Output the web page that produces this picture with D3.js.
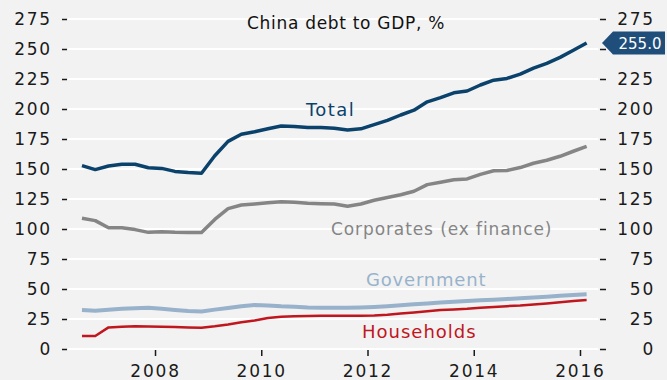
<!DOCTYPE html>
<html>
<head>
<meta charset="utf-8">
<script src="https://cdn.jsdelivr.net/npm/d3@7"></script>
<style>
	body { margin: 0; background: #f2f2f2; }
	svg { display: block; font-family: 'DejaVu Sans', sans-serif; }
</style>
</head>
<body>
<div id="container"></div>
<script>
// quarterly points, 2006Q3 .. 2016Q1
var quarters = ['2006Q3','2006Q4',
	'2007Q1','2007Q2','2007Q3','2007Q4',
	'2008Q1','2008Q2','2008Q3','2008Q4',
	'2009Q1','2009Q2','2009Q3','2009Q4',
	'2010Q1','2010Q2','2010Q3','2010Q4',
	'2011Q1','2011Q2','2011Q3','2011Q4',
	'2012Q1','2012Q2','2012Q3','2012Q4',
	'2013Q1','2013Q2','2013Q3','2013Q4',
	'2014Q1','2014Q2','2014Q3','2014Q4',
	'2015Q1','2015Q2','2015Q3','2015Q4',
	'2016Q1'];

var total = [152.8, 149.5, 152.5, 154, 154, 151, 150.5, 148, 147, 146.5,
	161, 173, 179, 181, 183.5, 185.8, 185.5, 184.5, 184.5, 184,
	182.5, 183.5, 187, 190.5, 195, 199, 206, 209.5, 213.5, 215,
	220, 224, 225.5, 229, 234, 238, 243, 249, 255];

var corporates = [109, 107, 101, 101, 99.5, 97.2, 97.8, 97.2, 97, 97,
	108, 117, 120, 120.8, 121.8, 122.8, 122.2, 121.4, 121, 120.8,
	119, 120.8, 124, 126.3, 128.5, 131.5, 137, 139, 141, 141.7,
	145.5, 148.5, 148.8, 151.2, 154.8, 157.3, 160.6, 164.8, 168.8];

var government = [32.5, 31.8, 32.8, 33.5, 34, 34.4, 33.5, 32.5, 31.7, 31.2,
	32.8, 34.2, 35.6, 36.6, 36.3, 35.6, 35.2, 34.6, 34.4, 34.4,
	34.4, 34.6, 35, 35.6, 36.4, 37.2, 38, 38.7, 39.3, 40,
	40.6, 41.1, 41.7, 42.3, 43, 43.6, 44.3, 45, 45.6];

var households = [10.8, 10.8, 18, 18.5, 19, 18.8, 18.6, 18.4, 18, 17.8,
	19, 20.5, 22.3, 23.8, 25.8, 26.8, 27.3, 27.5, 27.8, 27.8,
	27.8, 27.8, 28, 28.5, 29.5, 30.5, 31.5, 32.5, 33, 33.5,
	34.3, 35, 35.7, 36.2, 37, 38, 39, 40, 40.8];

var yTicks = [0, 25, 50, 75, 100, 125, 150, 175, 200, 225, 250, 275];
var xTicks = [2008, 2010, 2012, 2014, 2016];

var width = 667, height = 380;
var plot = {left: 68, right: 598, top: 19, bottom: 349};

// mid-quarter as decimal year
function qYear(q) {
	return +q.slice(0, 4) + (+q.slice(5) - 1) / 4 + 0.125;
}

var x = d3.scaleLinear()
	.domain([2006.362, 2016.339])
	.range([plot.left, plot.right]);

var y = d3.scaleLinear()
	.domain([0, 275])
	.range([plot.bottom, plot.top]);

var svg = d3.select('div#container')
	.append('svg')
	.attr('width', width)
	.attr('height', height);

svg.append('rect')
	.attr('width', width)
	.attr('height', height)
	.attr('fill', '#f2f2f2');

// gridlines
svg.append('g')
	.selectAll('line')
	.data(yTicks)
	.join('line')
	.attr('x1', plot.left)
	.attr('x2', plot.right)
	.attr('y1', d => y(d))
	.attr('y2', d => y(d))
	.attr('stroke', '#ffffff')
	.attr('stroke-width', 2);

var tickFont = {size: '17px', fill: '#1a1a1a', spacing: '1.8px'};

// left axis
var leftAxis = svg.append('g')
	.attr('transform', 'translate(' + plot.left + ',0)')
	.call(d3.axisLeft(y).tickValues(yTicks).tickSize(0).tickPadding(16));
leftAxis.select('.domain').remove();
leftAxis.selectAll('text')
	.attr('font-size', tickFont.size)
	.attr('font-family', 'DejaVu Sans')
	.attr('letter-spacing', tickFont.spacing)
	.attr('fill', tickFont.fill);
leftAxis.selectAll('.tick').append('line')
	.attr('x1', -6)
	.attr('x2', -1)
	.attr('stroke', '#1a1a1a')
	.attr('stroke-width', 1.5);

// last value of the total series, its flag hides the right label behind it
var last = total[total.length - 1];

// right axis
var rightAxis = svg.append('g')
	.attr('transform', 'translate(' + plot.right + ',0)')
	.call(d3.axisRight(y).tickValues(yTicks).tickSize(0));
rightAxis.select('.domain').remove();
rightAxis.selectAll('text')
	.attr('x', 57)
	.attr('text-anchor', 'end')
	.attr('font-size', tickFont.size)
	.attr('font-family', 'DejaVu Sans')
	.attr('letter-spacing', tickFont.spacing)
	.attr('fill', tickFont.fill)
	.attr('display', d => Math.abs(y(d) - y(last)) < 14 ? 'none' : null);
rightAxis.selectAll('.tick').append('line')
	.attr('x1', 2)
	.attr('x2', 8)
	.attr('stroke', '#1a1a1a')
	.attr('stroke-width', 1.5);

// bottom axis
var bottomAxis = svg.append('g')
	.attr('transform', 'translate(0,' + (plot.bottom + 1) + ')')
	.call(d3.axisBottom(x).tickValues(xTicks).tickFormat(d3.format('d')).tickSize(6).tickPadding(9));
bottomAxis.select('.domain').remove();
bottomAxis.selectAll('.tick line')
	.attr('stroke', '#1a1a1a')
	.attr('stroke-width', 1.5);
bottomAxis.selectAll('text')
	.attr('font-size', tickFont.size)
	.attr('font-family', 'DejaVu Sans')
	.attr('letter-spacing', tickFont.spacing)
	.attr('fill', tickFont.fill);

// series
var series = [
	{name: 'Households', values: households, color: '#c0161e', width: 2.5},
	{name: 'Government', values: government, color: '#98b2cb', width: 4},
	{name: 'Corporates (ex finance)', values: corporates, color: '#858585', width: 3.5},
	{name: 'Total', values: total, color: '#0b426c', width: 3.5}
];

var line = d3.line()
	.x((d, i) => x(qYear(quarters[i])))
	.y(d => y(d));

svg.append('g')
	.selectAll('path')
	.data(series)
	.join('path')
	.attr('d', d => line(d.values))
	.attr('fill', 'none')
	.attr('stroke', d => d.color)
	.attr('stroke-width', d => d.width)
	.attr('stroke-linejoin', 'round');

// series labels
var labels = [
	{text: 'Total', x: 306, y: 116, color: '#0b426c', size: '18px', spacing: '1.4px'},
	{text: 'Corporates (ex finance)', x: 331, y: 235, color: '#858585', size: '17px', spacing: '0.9px'},
	{text: 'Government', x: 366, y: 286, color: '#98b2cb', size: '18px', spacing: '0.8px'},
	{text: 'Households', x: 362, y: 338, color: '#c0161e', size: '18px', spacing: '1px'}
];

svg.append('g')
	.selectAll('text')
	.data(labels)
	.join('text')
	.attr('x', d => d.x)
	.attr('y', d => d.y)
	.attr('fill', d => d.color)
	.attr('font-size', d => d.size)
	.attr('letter-spacing', d => d.spacing)
	.text(d => d.text);

// title
svg.append('text')
	.attr('x', 346)
	.attr('y', 29)
	.attr('text-anchor', 'middle')
	.attr('font-size', '17px')
	.attr('letter-spacing', '0.7px')
	.attr('fill', '#111')
	.text('China debt to GDP, %');

// last value flag
var flag = svg.append('g')
	.attr('transform', 'translate(602,' + y(last) + ')');
flag.append('path')
	.attr('d', 'M0,0 L11,-11.5 L63,-11.5 L63,11.5 L11,11.5 Z')
	.attr('fill', '#1f4e7a');
flag.append('text')
	.attr('x', 38)
	.attr('y', 5.5)
	.attr('text-anchor', 'middle')
	.attr('font-size', '15px')
	.attr('fill', '#ffffff')
	.text(last.toFixed(1));
</script>
</body>
</html>
